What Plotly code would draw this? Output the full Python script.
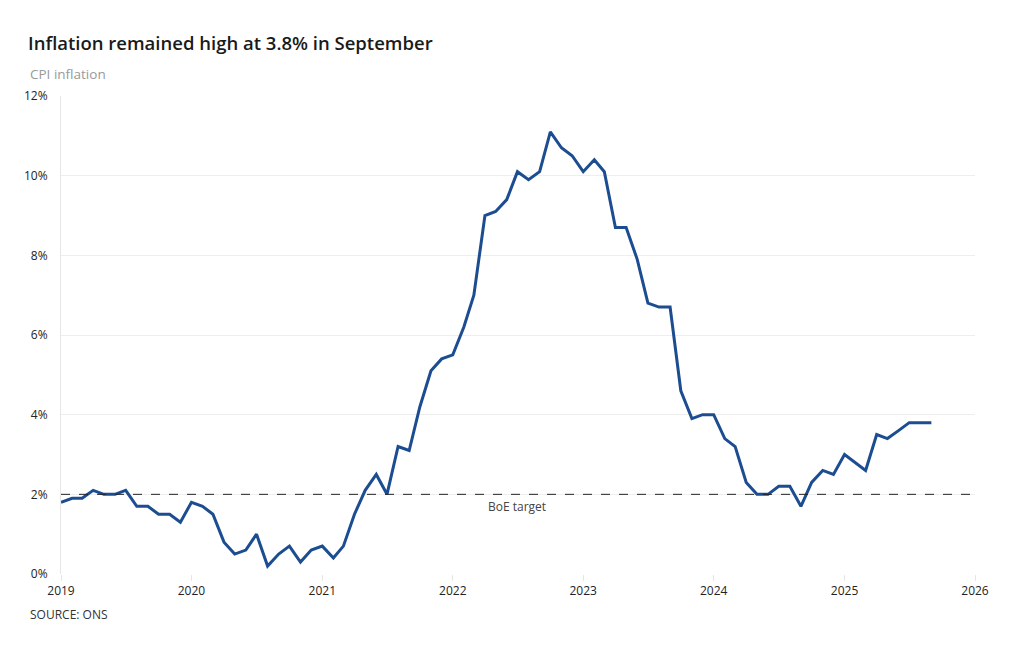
import plotly.graph_objects as go
import pandas as pd

months = pd.date_range("2019-01-01", "2025-09-01", freq="MS").strftime("%Y-%m-%d").tolist()
cpi = [
    1.8, 1.9, 1.9, 2.1, 2.0, 2.0, 2.1, 1.7, 1.7, 1.5, 1.5, 1.3,
    1.8, 1.7, 1.5, 0.8, 0.5, 0.6, 1.0, 0.2, 0.5, 0.7, 0.3, 0.6,
    0.7, 0.4, 0.7, 1.5, 2.1, 2.5, 2.0, 3.2, 3.1, 4.2, 5.1, 5.4,
    5.5, 6.2, 7.0, 9.0, 9.1, 9.4, 10.1, 9.9, 10.1, 11.1, 10.7, 10.5,
    10.1, 10.4, 10.1, 8.7, 8.7, 7.9, 6.8, 6.7, 6.7, 4.6, 3.9, 4.0,
    4.0, 3.4, 3.2, 2.3, 2.0, 2.0, 2.2, 2.2, 1.7, 2.3, 2.6, 2.5,
    3.0, 2.8, 2.6, 3.5, 3.4, 3.6, 3.8, 3.8, 3.8,
]
target = 2
y_ticks = [0, 2, 4, 6, 8, 10, 12]
y_tick_labels = ["0%", "2%", "4%", "6%", "8%", "10%", "12%"]
x_ticks = ["2019-01-01", "2020-01-01", "2021-01-01", "2022-01-01",
           "2023-01-01", "2024-01-01", "2025-01-01", "2026-01-01"]
x_tick_labels = ["2019", "2020", "2021", "2022", "2023", "2024", "2025", "2026"]

FONT = "Open Sans"
W, H = 1004, 634  # page body has an 8px margin
L, T = 53, 88
PW, PH = 914, 478

fig = go.Figure()
fig.add_trace(go.Scatter(x=months, y=cpi, mode="lines",
                         line=dict(color="#1c4d91", width=3),
                         hoverinfo="x+y", showlegend=False))

fig.add_shape(type="line", xref="paper", x0=0, x1=1, yref="y", y0=target, y1=target,
              line=dict(color="#222222", width=1, dash="dash"))
fig.add_annotation(x="2022-07-01", y=target, yshift=-12, text="BoE target",
                   showarrow=False, font=dict(family=FONT, size=12, color="#444444"))

fig.update_layout(
    width=W, height=H,
    paper_bgcolor="white", plot_bgcolor="white",
    margin=dict(l=L, r=W - L - PW, t=T, b=H - T - PH),
    font=dict(family=FONT, size=12, color="#333333"),
    title=dict(text="Inflation remained high at 3.8% in September",
               x=0, xref="container", xanchor="left", yanchor="middle",
               y=1 - 36 / H, pad=dict(l=20),
               font=dict(family=FONT, size=18.5, color="#1a1a1a", weight=600)),
    xaxis=dict(type="date", range=["2019-01-01", "2026-01-01"],
               tickvals=x_ticks, ticktext=x_tick_labels,
               showgrid=False, zeroline=False, showline=False,
               ticks="outside", ticklen=6, tickcolor="#e6e6e6",
               tickfont=dict(family=FONT, size=12, color="#222222")),
    yaxis=dict(range=[0, 12], tickvals=y_ticks, ticktext=y_tick_labels,
               showgrid=True, gridcolor="#eeeeee", gridwidth=1,
               zeroline=False, showline=True, linecolor="#e6e6e6",
               ticks="", ticklabelstandoff=10,
               tickfont=dict(family=FONT, size=12, color="#222222")),
)

fig.add_annotation(xref="paper", yref="paper", x=-L / PW, y=1, yshift=22,
                   xanchor="left", yanchor="middle", xshift=20, text="CPI inflation",
                   showarrow=False, font=dict(family=FONT, size=13.5, color="#999999"))
fig.add_annotation(xref="paper", yref="paper", x=-L / PW, y=0, yshift=-40,
                   xanchor="left", yanchor="middle", xshift=20, text="SOURCE: ONS",
                   showarrow=False, font=dict(family=FONT, size=12, color="#333333"))

fig.write_html("out.html")
